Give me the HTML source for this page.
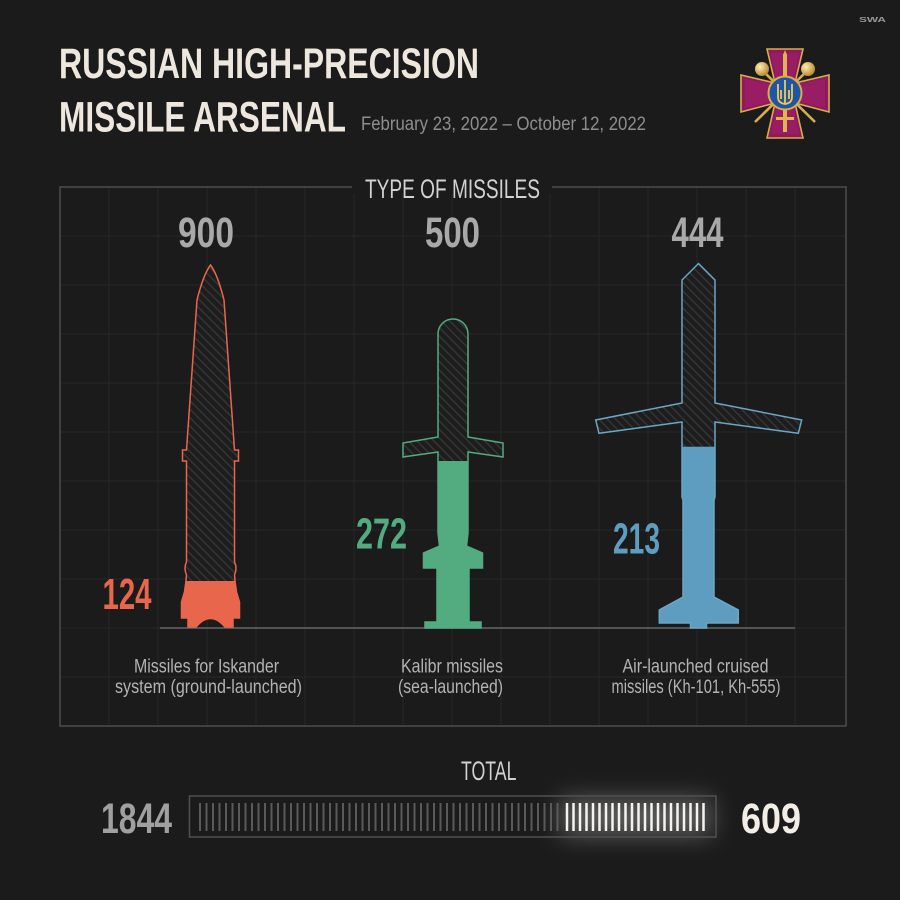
<!DOCTYPE html>
<html>
<head>
<meta charset="utf-8">
<style>
html,body{margin:0;padding:0;background:#1b1b1b;}
svg{display:block;}
text{font-family:"Liberation Sans",sans-serif;}
</style>
</head>
<body>
<svg width="900" height="900" viewBox="0 0 900 900" xmlns="http://www.w3.org/2000/svg">
<defs>
  <pattern id="hatch" patternUnits="userSpaceOnUse" width="6" height="6" patternTransform="rotate(-45)">
    <rect width="6" height="6" fill="#1d1d1d"/>
    <line x1="1" y1="0" x2="1" y2="6" stroke="#383838" stroke-width="1.3"/>
  </pattern>
  <filter id="blur" x="-50%" y="-100%" width="200%" height="300%">
    <feGaussianBlur stdDeviation="12"/>
  </filter>
  <radialGradient id="gold" cx="0.35" cy="0.35" r="0.7">
    <stop offset="0" stop-color="#fff0b0"/>
    <stop offset="1" stop-color="#b8862a"/>
  </radialGradient>
  <clipPath id="cIsk"><path id="pIsk" d="M210.5,265 C215,271 220,284 224,300 L234.5,450 L238.5,450 L238.5,461 L234.5,461 L234.5,562 Q237.5,568 234.5,575 L235,581 L236.5,592 L239.5,602 L239.5,618 L233,618 L233,627 L225,627 Q210.5,610 196,627 L188,627 L188,618 L181.5,618 L181.5,602 L184.5,592 L186,581 L186.5,575 Q183.5,568 186.5,562 L186.5,461 L182.5,461 L182.5,450 L186.5,450 L197,300 C201,284 206,271 210.5,265 Z"/></clipPath>
  <clipPath id="cKal"><path id="pKal" d="M438,334 A15,15 0 0 1 468,334 L468,437 L503,443 L503,457 L468,452 L468,533 L466.5,546 L482.5,553 L482.5,568 L469,568 L469,622 L481,622 L481,628 L425,628 L425,622 L437,622 L437,568 L423.5,568 L423.5,553 L439.5,546 L438,533 L438,452 L403,457 L403,443 L438,437 Z"/></clipPath>
  <clipPath id="cAir"><path id="pAir" d="M698.5,263.5 L715,280 L715,403 L801.7,420 L798.3,433.3 L715,422 L715,497 L714,500 L714,597 L738.3,610 L738.3,623 L706.5,623 L706.5,628 L690.5,628 L690.5,623 L659.3,623 L659.3,610 L683,597 L683,500 L682,497 L682,422 L599,433.3 L595.7,420 L682,403 L682,280 Z"/></clipPath>
</defs>

<rect x="0" y="0" width="900" height="900" fill="#1b1b1b"/>

<!-- SWA logo -->
<text x="859" y="22" font-size="7.5" font-weight="bold" fill="#9a9a9a" textLength="27" lengthAdjust="spacingAndGlyphs">SWA</text>

<!-- Title -->
<text x="59" y="78" font-size="43" font-weight="bold" fill="#ede7dd" textLength="420" lengthAdjust="spacingAndGlyphs">RUSSIAN HIGH-PRECISION</text>
<text x="59" y="131.5" font-size="43" font-weight="bold" fill="#ede7dd" textLength="287" lengthAdjust="spacingAndGlyphs">MISSILE ARSENAL</text>
<text x="361" y="130" font-size="19.5" fill="#8e8e8e" textLength="285" lengthAdjust="spacingAndGlyphs">February 23, 2022 – October 12, 2022</text>

<!-- Emblem -->
<g>
  <polygon points="767,49 803,49 795,83 829,75 829,112 795,103 803,138 767,138 775,103 741,112 741,75 775,83" fill="#8d1a5b" stroke="#d9ad4a" stroke-width="1.6"/>
  <polygon points="771,53 799,53 792,86 825,79 825,108 792,100 799,134 771,134 778,100 745,108 745,79 778,86" fill="#a0206a" opacity="0.6"/>
  <line x1="762" y1="70" x2="815" y2="122" stroke="#d9ad4a" stroke-width="2.6"/>
  <line x1="808" y1="70" x2="755" y2="122" stroke="#d9ad4a" stroke-width="2.6"/>
  <circle cx="762" cy="69" r="7" fill="url(#gold)"/>
  <circle cx="808" cy="69" r="7" fill="url(#gold)"/>
  <rect x="783" y="54" width="4" height="78" fill="#e0b44e"/>
  <polygon points="785,50 787,55 783,55" fill="#e0b44e"/>
  <rect x="776" y="117" width="18" height="3" fill="#e0b44e"/>
  <circle cx="785" cy="93" r="16.5" fill="#1e55a5" stroke="#d9ad4a" stroke-width="2"/>
  <path d="M785,80 L785,104 M778,84 L778,97 Q778,103 785,104 Q792,103 792,97 L792,84 M781,90 L781,99 M789,90 L789,99" stroke="#f1c94f" stroke-width="1.8" fill="none"/>
</g>

<!-- Panel grid -->
<g stroke="#272727" stroke-width="1">
  <line x1="60" y1="236" x2="846" y2="236"/>
  <line x1="60" y1="285" x2="846" y2="285"/>
  <line x1="60" y1="334" x2="846" y2="334"/>
  <line x1="60" y1="383" x2="846" y2="383"/>
  <line x1="60" y1="432" x2="846" y2="432"/>
  <line x1="60" y1="481" x2="846" y2="481"/>
  <line x1="60" y1="530" x2="846" y2="530"/>
  <line x1="60" y1="579" x2="846" y2="579"/>
  <line x1="60" y1="677" x2="846" y2="677"/>
  <line x1="109" y1="187" x2="109" y2="726"/>
  <line x1="158" y1="187" x2="158" y2="726"/>
  <line x1="207" y1="187" x2="207" y2="726"/>
  <line x1="256" y1="187" x2="256" y2="726"/>
  <line x1="305" y1="187" x2="305" y2="726"/>
  <line x1="354" y1="187" x2="354" y2="726"/>
  <line x1="403" y1="187" x2="403" y2="726"/>
  <line x1="452" y1="187" x2="452" y2="726"/>
  <line x1="501" y1="187" x2="501" y2="726"/>
  <line x1="550" y1="187" x2="550" y2="726"/>
  <line x1="599" y1="187" x2="599" y2="726"/>
  <line x1="648" y1="187" x2="648" y2="726"/>
  <line x1="697" y1="187" x2="697" y2="726"/>
  <line x1="746" y1="187" x2="746" y2="726"/>
  <line x1="795" y1="187" x2="795" y2="726"/>
</g>
<line x1="60" y1="628" x2="846" y2="628" stroke="#272727" stroke-width="1"/>

<!-- Panel frame -->
<rect x="60" y="187" width="786" height="539" fill="none" stroke="#4d4d4d" stroke-width="1.5"/>
<rect x="352" y="180" width="200" height="14" fill="#1b1b1b"/>
<text x="365" y="198" font-size="27" fill="#d2d2d2" textLength="175" lengthAdjust="spacingAndGlyphs">TYPE OF MISSILES</text>

<!-- baseline -->
<line x1="160" y1="628" x2="795" y2="628" stroke="#666666" stroke-width="1.5"/>

<!-- Top numbers -->
<text x="178" y="247" font-size="43" font-weight="bold" fill="#a9a9a9" textLength="56" lengthAdjust="spacingAndGlyphs">900</text>
<text x="425" y="247" font-size="43" font-weight="bold" fill="#a9a9a9" textLength="55" lengthAdjust="spacingAndGlyphs">500</text>
<text x="671.5" y="247" font-size="43" font-weight="bold" fill="#a9a9a9" textLength="52" lengthAdjust="spacingAndGlyphs">444</text>

<!-- Iskander -->
<use href="#pIsk" fill="url(#hatch)"/>
<rect x="170" y="581" width="80" height="60" fill="#e8674c" clip-path="url(#cIsk)"/>
<use href="#pIsk" fill="none" stroke="#e8674c" stroke-width="1.5"/>

<!-- Kalibr -->
<use href="#pKal" fill="url(#hatch)"/>
<rect x="400" y="461" width="110" height="180" fill="#52ac80" clip-path="url(#cKal)"/>
<use href="#pKal" fill="none" stroke="#52ac80" stroke-width="1.5"/>

<!-- Air-launched -->
<use href="#pAir" fill="url(#hatch)"/>
<rect x="590" y="446.7" width="220" height="190" fill="#5e9dbf" clip-path="url(#cAir)"/>
<use href="#pAir" fill="none" stroke="#6aa6c6" stroke-width="1.5"/>

<!-- Colored numbers -->
<text x="102.5" y="609" font-size="44" font-weight="bold" fill="#e8674c" textLength="49" lengthAdjust="spacingAndGlyphs">124</text>
<text x="356" y="548.5" font-size="44" font-weight="bold" fill="#52ac80" textLength="51" lengthAdjust="spacingAndGlyphs">272</text>
<text x="613" y="553.5" font-size="44" font-weight="bold" fill="#5e9dbf" textLength="47" lengthAdjust="spacingAndGlyphs">213</text>

<!-- Labels -->
<g font-size="19" fill="#b3b3b3">
  <text x="134" y="672.5" textLength="145" lengthAdjust="spacingAndGlyphs">Missiles for Iskander</text>
  <text x="115" y="693" textLength="187" lengthAdjust="spacingAndGlyphs">system (ground-launched)</text>
  <text x="401" y="672.5" textLength="102" lengthAdjust="spacingAndGlyphs">Kalibr missiles</text>
  <text x="398" y="693" textLength="105" lengthAdjust="spacingAndGlyphs">(sea-launched)</text>
  <text x="622.5" y="672.5" textLength="146" lengthAdjust="spacingAndGlyphs">Air-launched cruised</text>
  <text x="611.5" y="693" textLength="169" lengthAdjust="spacingAndGlyphs">missiles (Kh-101, Kh-555)</text>
</g>

<!-- TOTAL -->
<text x="461" y="780" font-size="27" fill="#d2d2d2" textLength="55.5" lengthAdjust="spacingAndGlyphs">TOTAL</text>
<rect x="560" y="798" width="152" height="38" fill="#ffffff" opacity="0.28" filter="url(#blur)"/>
<rect x="189.5" y="796" width="526.5" height="41" fill="none" stroke="#505050" stroke-width="1.5"/>
<g stroke="#5a5a5a" stroke-width="2">
  <path d="M200,803V831M206.5,803V831M213,803V831M219.5,803V831M226,803V831M232.5,803V831M239,803V831M245.5,803V831M252,803V831M258.5,803V831M265,803V831M271.5,803V831M278,803V831M284.5,803V831M291,803V831M297.5,803V831M304,803V831M310.5,803V831M317,803V831M323.5,803V831M330,803V831M336.5,803V831M343,803V831M349.5,803V831M356,803V831M362.5,803V831M369,803V831M375.5,803V831M382,803V831M388.5,803V831M395,803V831M401.5,803V831M408,803V831M414.5,803V831M421,803V831M427.5,803V831M434,803V831M440.5,803V831M447,803V831M453.5,803V831M460,803V831M466.5,803V831M473,803V831M479.5,803V831M486,803V831M492.5,803V831M499,803V831M505.5,803V831M512,803V831M518.5,803V831M525,803V831M531.5,803V831M538,803V831M544.5,803V831M551,803V831M557.5,803V831"/>
</g>
<g stroke="#f5f3ee" stroke-width="2.5">
  <path d="M567,803V831M573.5,803V831M580,803V831M586.5,803V831M593,803V831M599.5,803V831M606,803V831M612.5,803V831M619,803V831M625.5,803V831M632,803V831M638.5,803V831M645,803V831M651.5,803V831M658,803V831M664.5,803V831M671,803V831M677.5,803V831M684,803V831M690.5,803V831M697,803V831M703.5,803V831"/>
</g>
<text x="101" y="833" font-size="43" font-weight="bold" fill="#a0a0a0" textLength="71" lengthAdjust="spacingAndGlyphs">1844</text>
<text x="741" y="833" font-size="43" font-weight="bold" fill="#f2eee6" textLength="60" lengthAdjust="spacingAndGlyphs">609</text>
</svg>
</body>
</html>
